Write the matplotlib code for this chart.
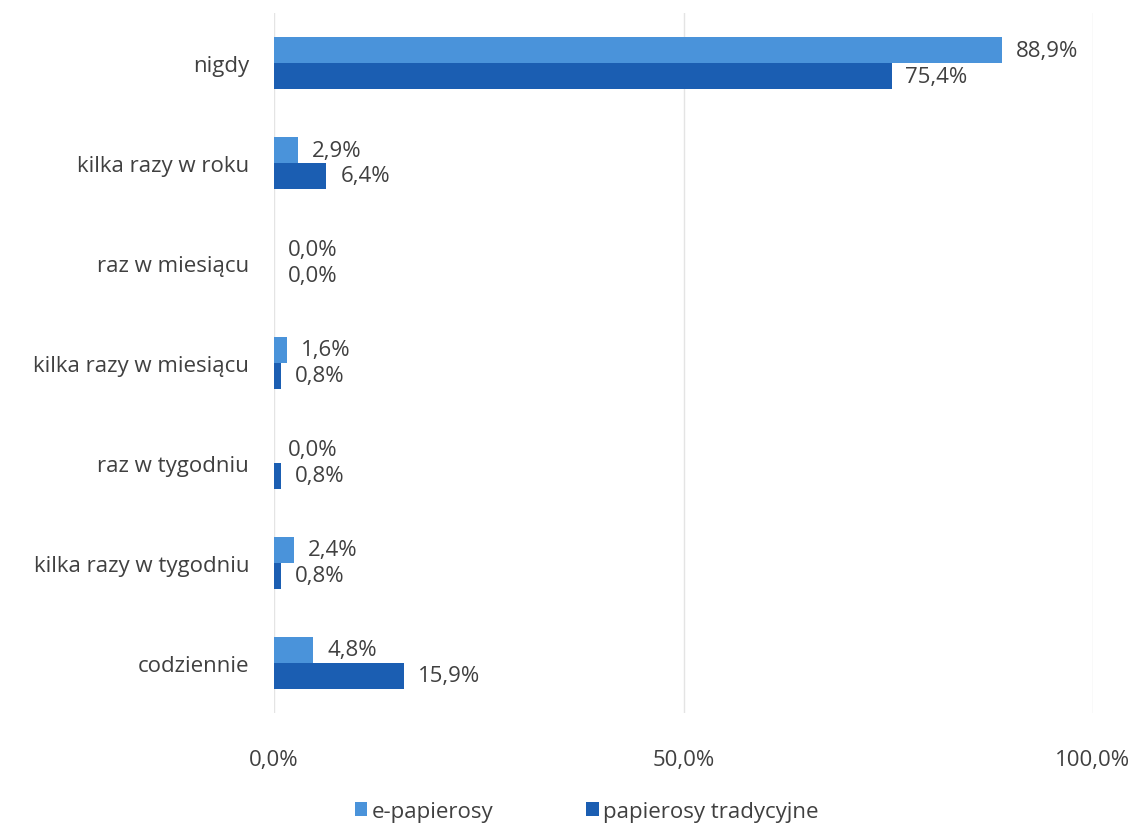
import matplotlib.pyplot as plt
import numpy as np

categories = ["nigdy", "kilka razy w roku", "raz w miesiącu", "kilka razy w miesiącu",
              "raz w tygodniu", "kilka razy w tygodniu", "codziennie"]
e_papierosy = [88.9, 2.9, 0.0, 1.6, 0.0, 2.4, 4.8]
tradycyjne = [75.4, 6.4, 0.0, 0.8, 0.8, 0.8, 15.9]
series_names = ["e-papierosy", "papierosy tradycyjne"]

plt.rcParams['font.family'] = ['Open Sans', 'DejaVu Sans']
text_col = '#404040'
fs = 16

fig = plt.figure(figsize=(11.39, 8.28), dpi=100)
ax = fig.add_axes([0.2406, 0.138, 0.719, 0.845])

y = np.arange(len(categories))
h = 0.26
b1 = ax.barh(y - h / 2, e_papierosy, height=h, color='#4a93da', label=series_names[0])
b2 = ax.barh(y + h / 2, tradycyjne, height=h, color='#1b5eb2', label=series_names[1])

def fmt(v):
    return f"{v:.1f}%".replace('.', ',')

for bars, vals in [(b1, e_papierosy), (b2, tradycyjne)]:
    for bar, v in zip(bars, vals):
        ax.annotate(fmt(v), (v, bar.get_y() + bar.get_height() / 2),
                    xytext=(10, 0), textcoords='offset points',
                    va='center', ha='left', fontsize=fs, color=text_col)

ax.set_xlim(0, 100)
ax.set_ylim(len(categories) - 0.5, -0.5)
ax.set_yticks(y)
ax.set_yticklabels(categories, fontsize=fs, color=text_col)
ax.set_xticks([0, 50, 100])
ax.set_xticklabels([fmt(v) for v in [0, 50, 100]], fontsize=fs, color=text_col)
ax.tick_params(axis='both', length=0)
ax.tick_params(axis='x', pad=26)
ax.tick_params(axis='y', pad=18)
ax.grid(axis='x', color='#e4e4e4', linewidth=1)
ax.set_axisbelow(True)
for s in ax.spines.values():
    s.set_visible(False)

fig.legend(handles=[b1, b2], loc='lower center', bbox_to_anchor=(0.515, -0.018), ncol=2,
           frameon=False, fontsize=fs, handlelength=0.55, handleheight=0.6,
           handletextpad=0.2, columnspacing=4.2, labelcolor=text_col)

fig.savefig('out.png', dpi=100, facecolor='white')
